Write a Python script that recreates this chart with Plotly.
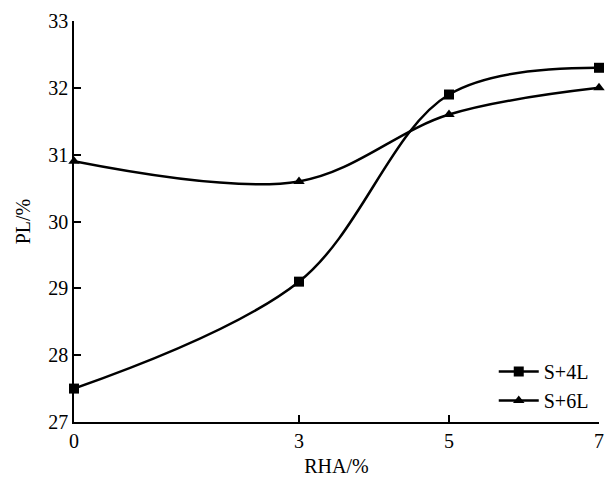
import plotly.graph_objects as go

rha = [0, 3, 5, 7]
s4l = [27.5, 29.1, 31.9, 32.3]
s6l = [30.9, 30.6, 31.6, 32.0]
x_ticks = [0, 3, 5, 7]
y_ticks = [27, 28, 29, 30, 31, 32, 33]

fig = go.Figure()
fig.add_trace(go.Scatter(x=rha, y=s4l, name="S+4L", mode="lines+markers",
                         line=dict(color="black", width=2.5, shape="spline", smoothing=1),
                         marker=dict(symbol="square", size=10, color="black"),
                         cliponaxis=False))
fig.add_trace(go.Scatter(x=rha, y=s6l, name="S+6L", mode="lines+markers",
                         line=dict(color="black", width=2.5, shape="spline", smoothing=1),
                         marker=dict(symbol="triangle-up", size=10, color="black"),
                         cliponaxis=False))

fig.update_layout(
    width=614, height=484,
    margin=dict(l=74, r=10, t=15, b=58),
    paper_bgcolor="white", plot_bgcolor="white",
    font=dict(family="Liberation Serif, Times New Roman, serif", size=20, color="black"),
    showlegend=True,
    legend=dict(x=0.99, y=0.005, xanchor="right", yanchor="bottom",
                bgcolor="rgba(0,0,0,0)", font=dict(size=20), itemwidth=40,
                tracegroupgap=0),
    xaxis=dict(range=[0, 7], tickvals=x_ticks, ticks="inside", ticklen=7,
               tickwidth=1.5, tickcolor="black", showline=True, linecolor="black",
               linewidth=1.5, showgrid=False, zeroline=False, mirror=False,
               title=dict(text="RHA/%", font=dict(size=20), standoff=8)),
    yaxis=dict(range=[27, 33], tickvals=y_ticks, ticks="inside", ticklen=7,
               tickwidth=1.5, tickcolor="black", showline=True, linecolor="black",
               linewidth=1.5, showgrid=False, zeroline=False, mirror=False,
               title=dict(text="PL/%", font=dict(size=20), standoff=12)),
)

fig.write_html("out.html")
